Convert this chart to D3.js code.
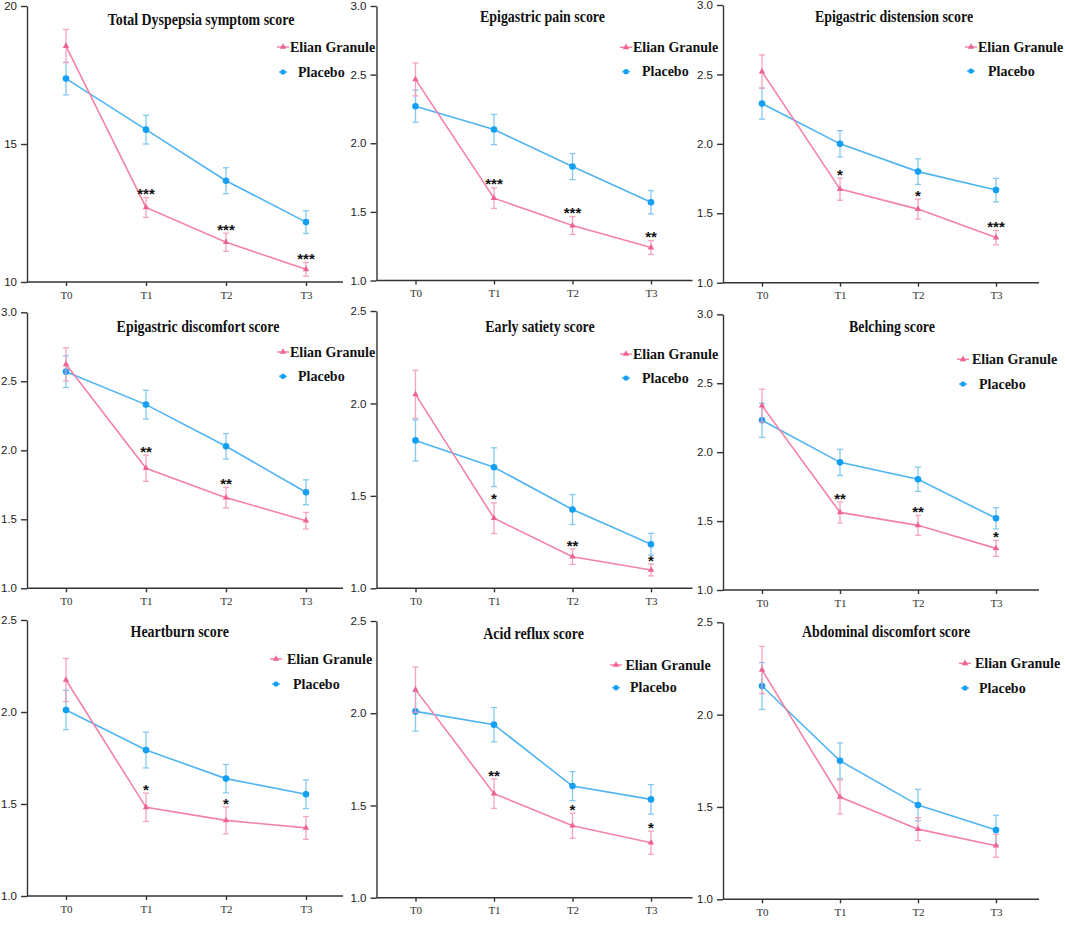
<!DOCTYPE html>
<html>
<head>
<meta charset="utf-8">
<script src="https://cdn.jsdelivr.net/npm/d3@7"></script>
<style>
  html, body { margin: 0; padding: 0; background: #fff; }
  svg { display: block; }
</style>
</head>
<body>
<svg id="chart" width="1065" height="927"></svg>
<script>
// ---------------- DATA ----------------
const timepoints = ["T0", "T1", "T2", "T3"];
const seriesNames = ["Elian Granule", "Placebo"];
const panelTitles = [
  "Total Dyspepsia symptom score",
  "Epigastric pain score",
  "Epigastric distension score",
  "Epigastric discomfort score",
  "Early satiety score",
  "Belching score",
  "Heartburn score",
  "Acid reflux score",
  "Abdominal discomfort score"
];
const elianMean = [
  [18.55, 12.70, 11.44, 10.46],
  [2.465, 1.60, 1.40, 1.24],
  [2.52, 1.674, 1.53, 1.325],
  [2.623, 1.87, 1.657, 1.49],
  [2.049, 1.379, 1.171, 1.099],
  [2.337, 1.563, 1.469, 1.302],
  [2.174, 1.482, 1.411, 1.37],
  [2.128, 1.564, 1.39, 1.298],
  [2.242, 1.554, 1.38, 1.29]
];
const elianSE = [
  [0.60, 0.36, 0.33, 0.25],
  [0.12, 0.075, 0.065, 0.05],
  [0.12, 0.08, 0.072, 0.052],
  [0.12, 0.095, 0.075, 0.06],
  [0.13, 0.083, 0.042, 0.032],
  [0.12, 0.076, 0.072, 0.058],
  [0.117, 0.077, 0.073, 0.062],
  [0.123, 0.08, 0.068, 0.063],
  [0.128, 0.092, 0.062, 0.062]
];
const placeboMean = [
  [17.37, 15.52, 13.67, 12.17],
  [2.27, 2.10, 1.83, 1.57],
  [2.29, 2.00, 1.80, 1.667],
  [2.57, 2.331, 2.029, 1.696],
  [1.80, 1.655, 1.426, 1.238],
  [2.231, 1.926, 1.803, 1.52],
  [2.011, 1.793, 1.638, 1.553],
  [2.01, 1.938, 1.605, 1.533],
  [2.155, 1.75, 1.51, 1.375]
];
const placeboSE = [
  [0.59, 0.52, 0.47, 0.41],
  [0.117, 0.11, 0.095, 0.085],
  [0.112, 0.095, 0.092, 0.085],
  [0.115, 0.104, 0.092, 0.09],
  [0.111, 0.105, 0.081, 0.059],
  [0.124, 0.095, 0.088, 0.077],
  [0.107, 0.097, 0.077, 0.078],
  [0.107, 0.093, 0.079, 0.08],
  [0.127, 0.097, 0.085, 0.08]
];
const significance = [
  ["", "***", "***", "***"],
  ["", "***", "***", "**"],
  ["", "*", "*", "***"],
  ["", "**", "**", ""],
  ["", "*", "**", "*"],
  ["", "**", "**", "*"],
  ["", "*", "*", ""],
  ["", "**", "*", "*"],
  ["", "", "", ""]
];
const yDomains = [[10, 20], [1, 3], [1, 3], [1, 3], [1, 2.5], [1, 3], [1, 2.5], [1, 2.5], [1, 2.5]];
const yTickSteps = [5, 0.5, 0.5, 0.5, 0.5, 0.5, 0.5, 0.5, 0.5];

// ---------------- LAYOUT ----------------
// [axisX, top, bottom, pointStep]
const panelBox = [
  [27, 6, 282, 80], [376.5, 6, 280.5, 78.5], [723, 5, 282.7, 78],
  [27, 312.3, 588.3, 80], [376.5, 311, 588.3, 78.5], [723, 314.3, 590, 78],
  [27, 620, 896, 80], [376.5, 621, 897.7, 78.5], [723, 622.3, 899.3, 78]
];
// title center offsets [dx from axis, dy from top]
const titlePos = [[174, 13.5], [166, 10.7], [171, 11.7], [171, 13.7], [163.5, 15], [169, 11.7], [152.7, 11], [157, 12], [163, 9.4]];
// legend offsets [lineStart, elianTextX, placeboTextX, elianY, placeboY]
const legendPos = [
  [250, 263, 271, 41, 66], [243.5, 256.5, 265.5, 41.3, 65.7], [242, 255, 265, 42, 66],
  [250, 263, 271, 39.7, 64], [243.5, 256.5, 265.5, 43, 67], [234, 249, 256, 45, 69.7],
  [243, 260, 266, 39, 64], [233.5, 249, 253.5, 44, 66.7], [236, 252, 256, 41, 65.7]
];

const PINK_LINE = "#f482a7", PINK_MARK = "#ef6393", PINK_ERR = "#f59bb9";
const BLUE_LINE = "#4fb4f2", BLUE_MARK = "#159ff3", BLUE_ERR = "#78c4f2";
const SERIF = "'Liberation Serif', 'Times New Roman', serif";
const SANS = "'Liberation Sans', Arial, sans-serif";

const svg = d3.select("#chart");
svg.append("rect").attr("width", 1065).attr("height", 927).attr("fill", "#fff");

const triangle = d3.symbol().type(d3.symbolTriangle).size(18);

panelTitles.forEach((title, i) => {
  const [ax, top, bottom, step] = panelBox[i];
  const g = svg.append("g");
  const x = d3.scalePoint().domain(timepoints).range([ax + 39, ax + 39 + 3 * step]);
  const y = d3.scaleLinear().domain(yDomains[i]).range([bottom, top]);
  const ticks = d3.range(yDomains[i][0], yDomains[i][1] + 1e-9, yTickSteps[i]);
  const fmt = yTickSteps[i] >= 1 ? d3.format("d") : d3.format(".1f");

  // Y axis
  const yAx = g.append("g").attr("transform", `translate(${ax},0)`)
    .call(d3.axisLeft(y).tickValues(ticks).tickFormat(fmt).tickSize(6).tickSizeOuter(0).tickPadding(4));
  yAx.selectAll("path, line").attr("stroke", "#333").attr("stroke-width", 1.4);
  yAx.selectAll("text").attr("font-family", SANS).attr("font-size", 11.5).attr("fill", "#222");

  // X axis
  const xAx = g.append("g").attr("transform", `translate(0,${bottom})`)
    .call(d3.axisBottom(x).tickSize(4).tickSizeOuter(0).tickPadding(5));
  xAx.select(".domain").remove();
  xAx.selectAll("line").attr("stroke", "#333").attr("stroke-width", 1.4);
  xAx.selectAll("text").attr("font-family", SERIF).attr("font-size", 11).attr("fill", "#333");
  g.append("line").attr("x1", ax).attr("x2", ax + 316).attr("y1", bottom).attr("y2", bottom)
    .attr("stroke", "#333").attr("stroke-width", 1.4);

  const mk = (means, ses) => timepoints.map((t, k) => ({ t, m: means[k], se: ses[k] }));
  const series = [
    { name: seriesNames[1], data: mk(placeboMean[i], placeboSE[i]), line: BLUE_LINE, mark: BLUE_MARK, err: BLUE_ERR, shape: "circle" },
    { name: seriesNames[0], data: mk(elianMean[i], elianSE[i]), line: PINK_LINE, mark: PINK_MARK, err: PINK_ERR, shape: "tri" }
  ];
  const line = d3.line().x(d => x(d.t)).y(d => y(d.m));

  series.forEach(s => {
    const eg = g.append("g").attr("opacity", 0.9);
    s.data.forEach(d => {
      const cx = x(d.t), y1 = y(d.m + d.se), y2 = y(d.m - d.se);
      eg.append("line").attr("x1", cx).attr("x2", cx).attr("y1", y1).attr("y2", y2).attr("stroke", s.err).attr("stroke-width", 1.3);
      [y1, y2].forEach(yy => eg.append("line").attr("x1", cx - 3).attr("x2", cx + 3).attr("y1", yy).attr("y2", yy).attr("stroke", s.err).attr("stroke-width", 1.3));
    });
    g.append("path").datum(s.data).attr("d", line).attr("fill", "none").attr("stroke", s.line).attr("stroke-width", 1.6);
    s.data.forEach(d => {
      if (s.shape === "circle") {
        g.append("circle").attr("cx", x(d.t)).attr("cy", y(d.m)).attr("r", 3.3).attr("fill", s.mark);
      } else {
        g.append("path").attr("d", triangle).attr("transform", `translate(${x(d.t)},${y(d.m)})`).attr("fill", s.mark);
      }
    });
  });

  // significance stars
  significance[i].forEach((st, k) => {
    if (!st) return;
    const t = timepoints[k];
    const yc = y(elianMean[i][k] + elianSE[i][k]) - 7;
    g.append("text").attr("x", x(t)).attr("y", yc + 8.6).attr("text-anchor", "middle")
      .attr("font-family", SANS).attr("font-weight", "bold").attr("font-size", 15).attr("fill", "#111").text(st);
  });

  // title
  const [tdx, tdy] = titlePos[i];
  g.append("text").attr("transform", `translate(${ax + tdx},${top + tdy + 5.5}) scale(0.87,1)`)
    .attr("text-anchor", "middle").attr("font-family", SERIF).attr("font-weight", "bold")
    .attr("font-size", 16).attr("fill", "#111").text(title);

  // legend
  const [ls, etx, ptx, ey, py] = legendPos[i];
  const lx = ax + ls;
  g.append("line").attr("x1", lx).attr("x2", lx + 12).attr("y1", top + ey).attr("y2", top + ey).attr("stroke", PINK_LINE).attr("stroke-width", 1.5);
  g.append("path").attr("d", triangle).attr("transform", `translate(${lx + 6},${top + ey})`).attr("fill", PINK_MARK);
  g.append("text").attr("x", ax + etx).attr("y", top + ey + 4.7).attr("font-family", SERIF).attr("font-weight", "bold")
    .attr("font-size", 14).attr("fill", "#111").text(seriesNames[0]);
  g.append("line").attr("x1", lx + 2).attr("x2", lx + 10).attr("y1", top + py).attr("y2", top + py).attr("stroke", BLUE_LINE).attr("stroke-width", 1.5);
  g.append("circle").attr("cx", lx + 6).attr("cy", top + py).attr("r", 2.6).attr("fill", BLUE_MARK);
  g.append("text").attr("x", ax + ptx).attr("y", top + py + 4.7).attr("font-family", SERIF).attr("font-weight", "bold")
    .attr("font-size", 14).attr("fill", "#111").text(seriesNames[1]);
});
</script>
</body>
</html>
